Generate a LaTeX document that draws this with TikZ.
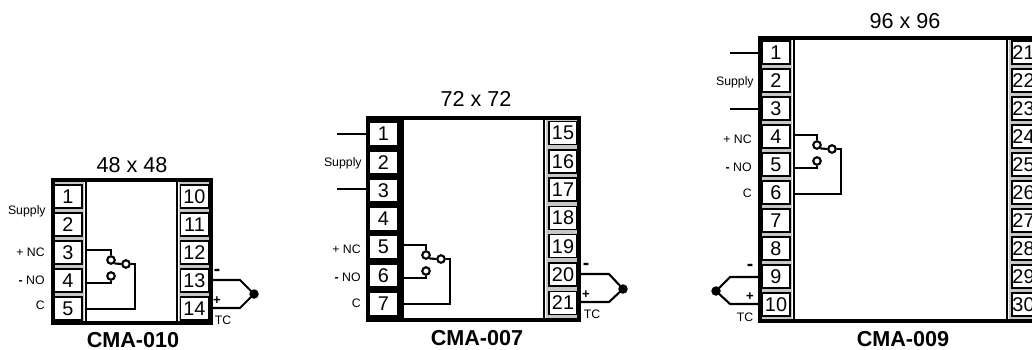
\documentclass[tikz,border=0pt]{standalone}
\usepackage{fontspec}
\setmainfont{Liberation Sans}
\tikzset{
    termbox/.style={draw, fill=white, line width=0.9pt, inner sep=0pt, minimum width=0.56cm, minimum height=0.46cm, font=\fontsize{11.3}{12}\selectfont},
    sidelabel/.style={anchor=east, inner sep=0pt, font=\fontsize{7}{8}\selectfont},
    sizelabel/.style={inner sep=0pt, font=\fontsize{12.3}{14}\selectfont},
    modellabel/.style={inner sep=0pt, font=\fontsize{12.3}{14}\selectfont\bfseries},
    contact/.style={circle, draw, fill=white, line width=1.2pt, inner sep=0pt, minimum size=0.15cm},
    junction/.style={circle, fill=black, inner sep=0pt, minimum size=0.19cm},
    wire/.style={line width=1.2pt},
    casing/.style={line width=2.8pt},
    divider/.style={line width=1.5pt},
    stripfill/.style={fill=black!22},
    polarity/.style={inner sep=0pt, font=\fontsize{7.5}{8}\selectfont\bfseries},
}
% relay: #1 prefix, #2 inner line x, #3 contact x, #4 contact y
\newcommand{\relaywires}[4]{
    \coordinate (#1ncw) at (#2,#4-10);
    \coordinate (#1now) at (#2,#4+23);
    \coordinate (#1cw) at (#2,#4+49);
    \coordinate (#1cr) at (#3+24,#4+4);
    \node[contact] (#1nc) at (#3,#4) {};
    \node[contact] (#1com) at (#3+15,#4+4) {};
    \node[contact] (#1no) at (#3,#4+16) {};
    \draw[wire] (#1ncw) -| (#1nc.north);
    \draw[wire] (#1now) -| (#1no.south);
    \draw[wire] (#1nc.south east) -- (#1com.west);
    \draw[wire] (#1com.east) -- (#1cr) |- (#1cw);
}
\begin{document}
\begin{tikzpicture}[x=0.02cm, y=-0.02cm]
    \useasboundingbox (0,0) rectangle (1032,349);
    \clip (0,0) rectangle (1032,349);

    % CMA-010
    \node[sizelabel] (size48) at (132,165) {48 x 48};
    \fill[stripfill] (53,180) rectangle (84,323);
    \fill[stripfill] (179,180) rectangle (211,323);
    \draw[casing] (53,180) rectangle (211,323);
    \draw[divider] (86,180) -- (86,323);
    \draw[divider] (177,180) -- (177,323);
    \foreach \n [count=\i from 0] in {1,...,5}
        \node[termbox] (a\n) at (68,{196.5+28*\i}) {\n};
    \foreach \n [count=\i from 0] in {10,...,14}
        \node[termbox] (b\n) at (194.5,{196.5+28*\i}) {\n};
    \node[sidelabel] (asupply) at (46,211) {Supply};
    \node[sidelabel] (anc) at (45,252) {+ NC};
    \node[sidelabel] (ano) at (45,280) {\textbf{-} NO};
    \node[sidelabel] (ac) at (45,305) {C};
    \relaywires{a}{87}{111}{260}
    \coordinate (atcm) at (213,280);
    \coordinate (atcp) at (213,308);
    \coordinate (atcmb) at (240,280);
    \coordinate (atcpb) at (240,308);
    \node[junction] (atc) at (254,294) {};
    \draw[wire] (atcm) -- (atcmb) -- (atc.center) -- (atcpb) -- (atcp);
    \node[polarity] (aminus) at (217,272.5) {\fontsize{11}{11}\selectfont -};
    \node[polarity] (aplus) at (217,301) {+};
    \node[sidelabel, anchor=center] (atclabel) at (223,320) {TC};
    \node[modellabel] (model010) at (133,340) {CMA-010};

    % CMA-007
    \node[sizelabel] (size72) at (476,99) {72 x 72};
    \fill[stripfill] (546,118) rectangle (579,320);
    \draw[casing] (368,118) rectangle (579,320);
    \fill (366,116) rectangle (404,322);
    \draw[divider] (544,118) -- (544,320);
    \foreach \n [count=\i from 0] in {1,...,7}
        \node[termbox] (c\n) at (383.5,{134+28.3*\i}) {\n};
    \foreach \n [count=\i from 0] in {15,...,21}
        \node[termbox] (d\n) at (563,{133+28.3*\i}) {\n};
    \coordinate (csupplya) at (337,134);
    \coordinate (csupplyb) at (337,189);
    \draw[wire] (csupplya) -- (csupplya -| c1.west);
    \draw[wire] (csupplyb) -- (csupplyb -| c3.west);
    \node[sidelabel] (csupply) at (362,163) {Supply};
    \node[sidelabel] (cnc) at (361,249) {+ NC};
    \node[sidelabel] (cno) at (361,277) {\textbf{-} NO};
    \node[sidelabel] (cc) at (361,303) {C};
    \relaywires{c}{404}{426}{255}
    \coordinate (ctcm) at (581,274);
    \coordinate (ctcp) at (581,302);
    \coordinate (ctcmb) at (609,274);
    \coordinate (ctcpb) at (609,302);
    \node[junction] (ctc) at (623,289) {};
    \draw[wire] (ctcm) -- (ctcmb) -- (ctc.center) -- (ctcpb) -- (ctcp);
    \node[polarity] (cminus) at (586,266.5) {\fontsize{11}{11}\selectfont -};
    \node[polarity] (cplus) at (586,295) {+};
    \node[sidelabel, anchor=center] (ctclabel) at (592,314) {TC};
    \node[modellabel] (model007) at (477,338) {CMA-007};

    % CMA-009
    \node[sizelabel] (size96) at (905,21) {96 x 96};
    \fill[stripfill] (760,38) rectangle (792,321);
    \fill[stripfill] (1009,38) rectangle (1045,321);
    \draw[casing] (760,38) rectangle (1045,321);
    \draw[divider] (794,38) -- (794,321);
    \draw[divider] (1007,38) -- (1007,321);
    \foreach \n [count=\i from 0] in {1,...,10}
        \node[termbox] (e\n) at (776,{52.5+28*\i}) {\n};
    \foreach \n [count=\i from 0] in {21,...,30}
        \node[termbox, minimum width=0.46cm] (f\n) at (1023.5,{52.5+28*\i}) {\n};
    \coordinate (esupplya) at (730,53);
    \coordinate (esupplyb) at (730,109);
    \draw[wire] (esupplya) -- (esupplya -| e1.west);
    \draw[wire] (esupplyb) -- (esupplyb -| e3.west);
    \node[sidelabel] (esupply) at (754,82) {Supply};
    \node[sidelabel] (enc) at (752,139) {+ NC};
    \node[sidelabel] (eno) at (752,167) {\textbf{-} NO};
    \node[sidelabel] (ec) at (752,193) {C};
    \relaywires{e}{795}{817}{145}
    \coordinate (etcm) at (758,277);
    \coordinate (etcp) at (758,304);
    \coordinate (etcmb) at (730,277);
    \coordinate (etcpb) at (730,304);
    \node[junction] (etc) at (716,291) {};
    \draw[wire] (etcm) -- (etcmb) -- (etc.center) -- (etcpb) -- (etcp);
    \node[polarity] (eminus) at (750,267.5) {\fontsize{11}{11}\selectfont -};
    \node[polarity] (eplus) at (750,297) {+};
    \node[sidelabel, anchor=center] (etclabel) at (745,317) {TC};
    \node[modellabel] (model009) at (903,339) {CMA-009};
\end{tikzpicture}
\end{document}
